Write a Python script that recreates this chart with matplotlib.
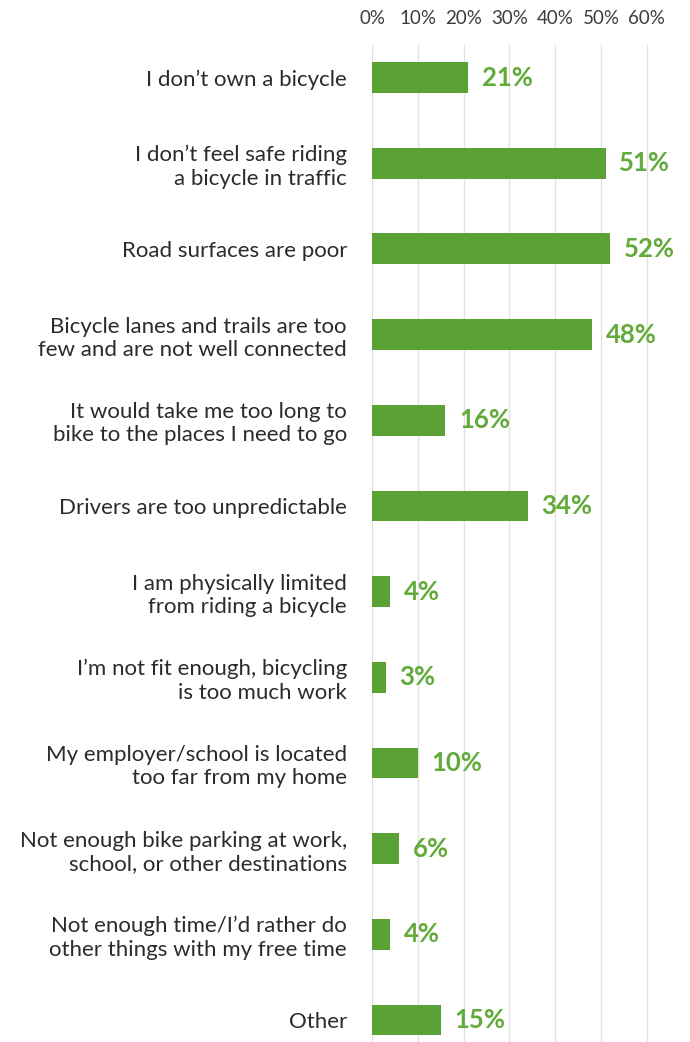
import matplotlib.pyplot as plt

plt.rcParams['font.family'] = ['Lato', 'DejaVu Sans']

reasons = [
    'I don\u2019t own a bicycle',
    'I don\u2019t feel safe riding\na bicycle in traffic',
    'Road surfaces are poor',
    'Bicycle lanes and trails are too\nfew and are not well connected',
    'It would take me too long to\nbike to the places I need to go',
    'Drivers are too unpredictable',
    'I am physically limited\nfrom riding a bicycle',
    'I\u2019m not fit enough, bicycling\nis too much work',
    'My employer/school is located\ntoo far from my home',
    'Not enough bike parking at work,\nschool, or other destinations',
    'Not enough time/I\u2019d rather do\nother things with my free time',
    'Other',
]
shares = [21, 51, 52, 48, 16, 34, 4, 3, 10, 6, 4, 15]
ticks = [0, 10, 20, 30, 40, 50, 60]

green = '#5ba236'

fig = plt.figure(figsize=(6.9, 10.42), dpi=100)
ax = fig.add_axes([372 / 690, 0, 318 / 690, 1 - 45 / 1042])

y = range(len(reasons))
ax.barh(y, shares, height=0.36, color=green, zorder=2)
for i, v in enumerate(shares):
    ax.text(v + 3, i, f'{v}%', va='center', ha='left', color='#62aa3a',
            fontsize=18.5, fontweight='bold')

ax.set_xlim(0, 318 / 4.58)
ax.set_ylim(len(reasons) - 1 + 0.257, -0.38)
ax.set_xticks(ticks)
ax.set_xticklabels([f'{t}%' for t in ticks])
ax.xaxis.tick_top()
ax.tick_params(axis='x', length=0, pad=13, labelsize=13.5, labelcolor='#3c3c3c')
ax.set_yticks(list(y))
ax.set_yticklabels(reasons, fontsize=16, color='#2b2b2b')
ax.tick_params(axis='y', length=0, pad=18)
ax.grid(axis='x', color='#e2e2e2', linewidth=1, zorder=0)
for s in ax.spines.values():
    s.set_visible(False)

fig.savefig('out.png', dpi=100)
